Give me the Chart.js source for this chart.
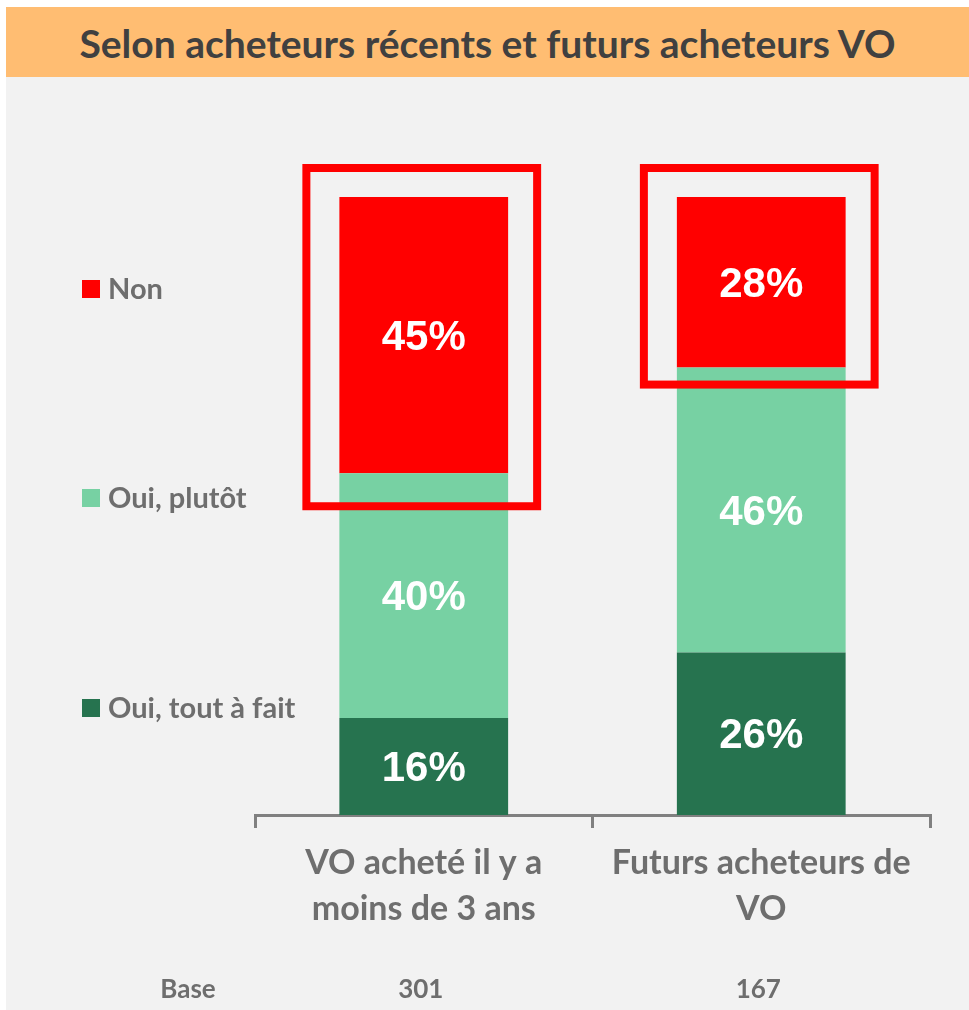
<!DOCTYPE html>
<html lang="fr">
<head>
    <title>Selon acheteurs récents et futurs acheteurs VO</title>
    <meta charset="UTF-8">
    <script src="https://cdn.jsdelivr.net/npm/chart.js"></script>
    <style>
        body {
            margin: 0;
            background: #ffffff;
            font-family: Lato, sans-serif;
        }
        #panel {
            position: absolute;
            left: 6px; top: 77px; right: 0; bottom: 0;
            width: 963px; height: 933px;
            background: #f2f2f2;
        }
        #banner {
            position: absolute;
            left: 6px; top: 7px;
            width: 963px; height: 70px;
            background: #ffbd72;
            color: #404040;
            font: bold 39px Lato, sans-serif;
            line-height: 72px;
            text-align: center;
        }
        #chart {
            position: absolute;
            left: 0; top: 77px;
        }
    </style>
</head>
<body>
    <div id="panel"></div>
    <div id="banner">Selon acheteurs récents et futurs acheteurs VO</div>
    <canvas id="chart" width="969" height="933"></canvas>
    <script>
        // Données
        var categories = [['VO acheté il y a', 'moins de 3 ans'], ['Futurs acheteurs de', 'VO']];
        var baseCounts = ['301', '167'];
        var toutAFait = [15.7, 26.3];
        var plutot = [39.6, 46.1];
        var non = [44.7, 27.6];

        var grayText = '#6e6e6e';

        // Légende à gauche
        var legendPlugin = {
            id: 'sideLegend',
            afterDraw: function (chart) {
                var ctx = chart.ctx;
                var items = [
                    { text: 'Non', color: '#ff0000', y: 212 },
                    { text: 'Oui, plutôt', color: '#77d1a3', y: 421 },
                    { text: 'Oui, tout à fait', color: '#26734f', y: 631 }
                ];
                ctx.save();
                ctx.font = 'bold 29px Lato, sans-serif';
                ctx.textBaseline = 'middle';
                items.forEach(function (it) {
                    ctx.fillStyle = it.color;
                    ctx.fillRect(82, it.y - 9, 18, 18);
                    ctx.fillStyle = grayText;
                    ctx.fillText(it.text, 108, it.y + 1);
                });
                ctx.restore();
            }
        };

        // Pourcentages dans les barres + cadres rouges + ligne Base
        var labelsPlugin = {
            id: 'segLabels',
            afterDatasetsDraw: function (chart) {
                var ctx = chart.ctx;
                ctx.save();
                ctx.font = 'bold 42px "Liberation Sans", Arial, sans-serif';
                ctx.fillStyle = '#ffffff';
                ctx.textAlign = 'center';
                ctx.textBaseline = 'middle';
                chart.data.datasets.forEach(function (ds, i) {
                    chart.getDatasetMeta(i).data.forEach(function (bar, j) {
                        ctx.fillText(Math.round(ds.data[j]) + '%', bar.x, (bar.y + bar.base) / 2 + 3);
                    });
                });

                // cadres autour de "Non"
                var padBottom = [33, 17];
                ctx.strokeStyle = '#ff0000';
                ctx.lineWidth = 8;
                chart.getDatasetMeta(2).data.forEach(function (bar, j) {
                    var left = bar.x - bar.width / 2 - 33;
                    ctx.strokeRect(left, bar.y - 29, bar.width + 62, bar.base - bar.y + 29 + padBottom[j]);
                });

                // Base
                ctx.font = 'bold 26px Lato, sans-serif';
                ctx.fillStyle = grayText;
                ctx.fillText('Base', 188, 913);
                baseCounts.forEach(function (b, j) {
                    ctx.fillText(b, chart.scales.x.getPixelForValue(j) - 3, 913);
                });
                ctx.restore();
            }
        };

        var ctx = document.getElementById('chart').getContext('2d');
        var chart = new Chart(ctx, {
            type: 'bar',
            data: {
                labels: categories,
                datasets: [
                    { label: 'Oui, tout à fait', data: toutAFait, backgroundColor: '#26734f' },
                    { label: 'Oui, plutôt', data: plutot, backgroundColor: '#77d1a3' },
                    { label: 'Non', data: non, backgroundColor: '#ff0000' }
                ]
            },
            options: {
                responsive: false,
                animation: false,
                layout: { padding: { left: 255, right: 39, top: 120, bottom: 75 } },
                datasets: { bar: { categoryPercentage: 1, barPercentage: 0.5 } },
                plugins: { legend: { display: false }, tooltip: { enabled: false } },
                scales: {
                    x: {
                        stacked: true,
                        afterFit: function (scale) { scale.height = 120; },
                        border: { display: true, color: '#808080', width: 3 },
                        grid: { drawOnChartArea: false, drawTicks: true, tickLength: 13, color: '#808080', lineWidth: 3 },
                        ticks: {
                            color: grayText,
                            padding: 12,
                            font: { family: 'Lato', weight: 'bold', size: 34, lineHeight: 1.35 }
                        }
                    },
                    y: { stacked: true, display: false, min: 0, max: 100 }
                }
            },
            plugins: [legendPlugin, labelsPlugin]
        });
    </script>
</body>
</html>
